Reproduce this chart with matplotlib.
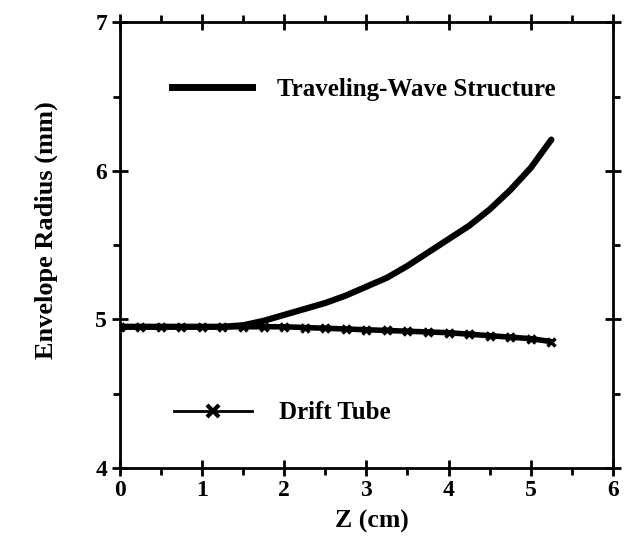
import matplotlib.pyplot as plt
from matplotlib.ticker import MultipleLocator
from matplotlib.lines import Line2D

z = [0, 0.25, 0.5, 0.75, 1.0, 1.25, 1.5, 1.75, 2.0, 2.25, 2.5, 2.75,
     3.0, 3.25, 3.5, 3.75, 4.0, 4.25, 4.5, 4.75, 5.0, 5.25]
r_wave = [4.95, 4.95, 4.95, 4.95, 4.95, 4.95, 4.96, 4.99, 5.03, 5.07, 5.11, 5.16,
          5.22, 5.28, 5.36, 5.45, 5.54, 5.63, 5.74, 5.87, 6.02, 6.21]
r_drift = [4.95, 4.95, 4.95, 4.95, 4.95, 4.95, 4.95, 4.95, 4.95, 4.945, 4.94, 4.935,
           4.93, 4.925, 4.92, 4.915, 4.91, 4.90, 4.89, 4.88, 4.87, 4.85]

plt.rcParams['font.family'] = ['Liberation Serif', 'DejaVu Serif']
plt.rcParams['font.weight'] = 'bold'

fig = plt.figure(figsize=(6.3, 5.57), dpi=100)
ax = fig.add_axes([0.19, 0.16, 0.783, 0.8])

ax.plot(z, r_drift, color='black', lw=4, marker='x', markersize=6, mew=2.5)
ax.plot(z, r_wave, color='black', lw=4.5, solid_capstyle='round')

ax.set_xlim(0, 6)
ax.set_ylim(4, 7)
ax.xaxis.set_major_locator(MultipleLocator(1))
ax.xaxis.set_minor_locator(MultipleLocator(0.5))
ax.yaxis.set_major_locator(MultipleLocator(1))
ax.yaxis.set_minor_locator(MultipleLocator(0.5))
ax.tick_params(which='both', top=True, right=True, width=2, labelsize=17, pad=3)
ax.tick_params(which='major', direction='inout', length=12)
ax.tick_params(which='minor', direction='out', length=5)
for s in ax.spines.values():
    s.set_linewidth(2)

ax.set_xlabel('Z (cm)', fontsize=18.5, fontweight='bold')
ax.set_ylabel('Envelope Radius (mm)', fontsize=19, fontweight='bold')
ax.xaxis.set_label_coords(0.511, -0.094)
ax.yaxis.set_label_coords(-0.125, 0.534)

h1 = Line2D([], [], color='black', lw=5)
h2 = Line2D([], [], color='black', lw=2, marker='x', markersize=8, mew=3)
leg1 = ax.legend([h1], ['Traveling-Wave Structure'], loc='upper left',
                 bbox_to_anchor=(0.06, 0.925), frameon=False, handlelength=3.2,
                 handletextpad=1.0, prop={'size': 18, 'weight': 'bold'})
ax.add_artist(leg1)
ax.legend([h2], ['Drift Tube'], loc='upper left', bbox_to_anchor=(0.065, 0.2),
          frameon=False, handlelength=3.1, handletextpad=1.1,
          prop={'size': 18, 'weight': 'bold'})

fig.savefig('out.png', dpi=100)
